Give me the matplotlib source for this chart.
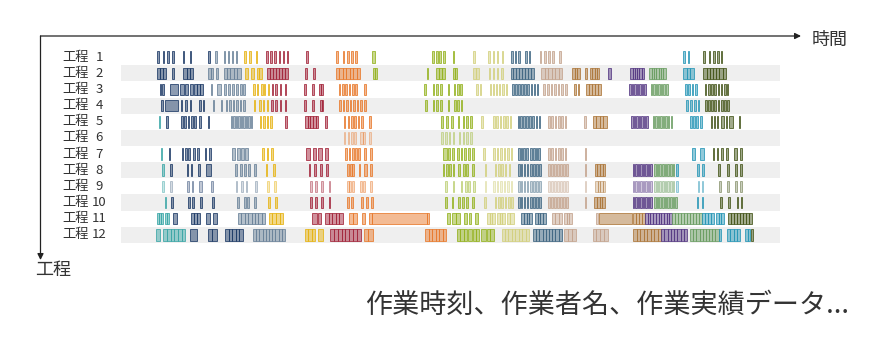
import matplotlib
matplotlib.use("Agg")
import matplotlib.pyplot as plt
from matplotlib.colors import to_rgba
from matplotlib.patches import Rectangle

plt.rcParams['font.family'] = ['Noto Sans CJK JP', 'DejaVu Sans']

W_PX, H_PX = 896, 348

# ── job colours (one colour per product / lot) ──
JOB_COLORS = {
    "T": "#3aa6a6",  # teal
    "N": "#1d3a66",  # navy
    "S": "#6a8299",  # slate
    "Y": "#e6b312",  # yellow
    "R": "#a3253a",  # crimson
    "O": "#e8792b",  # orange
    "G": "#94b21f",  # yellow-green
    "K": "#d3d07e",  # khaki
    "B": "#3f6682",  # steel blue
    "P": "#c4a48e",  # beige
    "W": "#ad773a",  # brown
    "V": "#553883",  # violet
    "E": "#6a9d62",  # green
    "C": "#2796b6",  # cyan
    "D": "#45561a",  # dark olive
}

process_numbers = list(range(1, 13))
axis_x_label = "時間"
axis_y_label = "工程"
caption = "作業時刻、作業者名、作業実績データ..."

# each entry: a single task at time t, or (start, end, n) = n consecutive tasks
row1 = {
    "N": [(156.5, 159, 1), 163.5, 168, 173, 183.5, 190.5, (208.3, 210.3, 1)],
    "S": [216, 224.5, 228.5, 232.5, 236.5],
    "Y": [245, 250, 256.5],
    "R": [266.7, 270.7, 275, 279.3, 283.3, 287.3, 306.7],
    "O": [(336, 338, 1), 343.3, 347.7, 351.7, 356],
    "G": [(372, 374.5, 1), 432.7, 436.7, 440, 444, 453.3],
    "K": [(473, 475, 1), 489, 493.5, 497.5, 502.5],
    "B": [(510.5, 512.5, 1), 515.3, 519, (525, 527, 1), 529.5],
    "P": [540.5, 545, 549, 553, 560],
    "C": [(683.3, 685.3, 1), 688.3],
    "D": [(703.3, 705.3, 1), 709.3, (713.3, 715.3, 1), 718, 721.5],
}
row2 = {
    "N": [(156.5, 166, 3), (171.5, 174, 1), (183.3, 193, 3)],
    "S": [(208.3, 213.3, 2), 216.7, (223.5, 240.5, 5)],
    "Y": [(245, 248.3, 1), (250.7, 254, 1), (256.7, 261.7, 2)],
    "R": [(266.7, 288.3, 7), (305, 307.3, 1), (312.7, 315, 1)],
    "O": [(336, 360, 7)],
    "G": [(372.7, 376.7, 2), (426.5, 428.3, 1), (436, 445, 3), (452.5, 457.3, 2)],
    "K": [(473.3, 478.7, 2), 489.5, 493.5, 497.5, 502],
    "B": [(510.5, 533.5, 8)],
    "P": [(541, 562, 6)],
    "W": [(572.3, 580, 3), 586, (590, 599.3, 4)],
    "V": [(607.5, 610.7, 1), (630.3, 644, 6)],
    "E": [(649.3, 665.7, 7)],
    "C": [(683.3, 694, 3)],
    "D": [(703.3, 725.7, 7)],
}
row3 = {
    "N": [160.5, 163, (170, 178.3, 1), (180, 184, 1), (185.3, 188.3, 1),
          (189.5, 192.7, 1), (193.5, 203, 3)],
    "S": [211.5, (216.5, 221, 1), 225, 229, 233, 237, 241, 244],
    "Y": [254, 257.5, 262, 264.5, 268.5],
    "R": [272.5, 276, 280.5, 285.5, 305, 312.7, (319.3, 322.7, 2)],
    "O": [339.3, 342.7, 346, 349.3, 352.7, 356, 365],
    "G": [425, 433.3, 436.7, 440.7, 448.5, 454.5, 458, 461],
    "K": [477, 480.3, 490.5, 493.5, 496.5, 499.5, 503, 506.5],
    "B": [513, 516, 519, 522, 525, 528, 531.5, 534.5, 537.5],
    "P": [544, 548, 551.5, 555, 558.5, 562, 566],
    "W": [575, 578.5, (585.5, 600.5, 5)],
    "V": [630, 632.5, 635, 637.5, 640, 642.5, 645],
    "E": [651.5, 654, 656.5, 659, 661.5, 664, 667],
    "C": [686, 689, 692.5, 696],
    "D": [705.5, 709, 712, 715, 718.5, 721.5, 725, 727.5],
}
row4 = {
    "N": [162, (165, 178.3, 1), 181.5, 186, 190.5, 200, 203.3],
    "S": [213.3, 221.5, 226.5, 230, 233.3, 236.7, 240.5, 244],
    "Y": [254.5, 259.7, 263.5, 267.5],
    "R": [272, 276, 280.3, 285.3, 305, 312.7, (320, 323.3, 2)],
    "O": [340, 343.5, 347, 350.5, 354, 357.5, 361, 365],
    "G": [426, 433.3, 436.7, 440.7, 448.3, 454.7, 458, 461.3],
    "C": [686.7, 690.7, 694.7, 698.3],
    "D": [706, 709, 712, 715, 718.5, 722, 725, 728],
}
row5 = {
    "T": [159.5],
    "N": [167, 181.7, 185, 188.3, 191.7, 195, 200, 208.3],
    "S": [231.5, 234, 236.5, 239, 241.5, 244, 246.5, 249, 251.5],
    "Y": [260.5, 264, 267.5, 271],
    "R": [286, (305, 318.3, 5), (325, 327, 1)],
    "O": [344.3, 348.3, 351.7, 355, 358.3, 361.7, 370],
    "G": [441.7, 446.7, 451.7, 458.3, 463.3, 466.7, 470.7],
    "K": [482, 494, 497, 500.5, 504, 507, 510.5],
    "B": [518.3, 521, 524, 527, 530, 533, 536.5, 539.5],
    "P": [548.7, 552, 555.3, 558.7, 562, 565.3, 584.7],
    "W": [(592.5, 606.5, 4)],
    "V": [632, 634.5, 637, 639.5, 642, 644.5, 647],
    "E": [653.5, 656, 658.5, 661, 663.5, 666, 668.5, 671.5],
    "C": [691, 694, 697, (699.5, 701.5, 1)],
    "D": [711.5, 714.5, 717.5, (720.5, 724, 1), 726.5, (729, 732.5, 1), 739.5],
}
row6 = {
    "O": [344.3, 348.3, 351.7, 355, (360, 365, 2), 370],
    "G": [441.7, 445.7, 449.3, 453.3, 459.3, 463.3, 466.7, 470.7],
}
row7 = {
    "T": [161.5],
    "N": [169.5, 182.3, 185.7, 189, 194, 198, 205.3, 209.7],
    "S": [(232.3, 235.3, 1), (236.5, 239.5, 1), (240.7, 243.7, 1), (245, 248, 1)],
    "Y": [263, 267.3, 272],
    "R": [(306, 310, 1), (312.7, 316, 1), (318.3, 321.7, 1), (325, 328.3, 1)],
    "O": [346, 349.3, 352.7, 356, 359, 365, 371],
    "G": [(443.3, 446.5, 1), (447.5, 450, 1), 453, 458, 461.5, 465, 469, 473],
    "K": [483.7, 494, 497.5, 501, 504.5, 508, 511.5],
    "B": [518.7, 521.3, 524, 526.7, 531, 533.7, 536.3, 539],
    "P": [548.7, 552, 555.3, 558.7, 562, 565.5, 585.3],
    "C": [(692, 695, 1), (700.3, 703.7, 1)],
    "D": [713.3, 717.3, 721.7, 726.7, (734, 736.8, 1), 740.7],
}
row8 = {
    "T": [163],
    "N": [170.7, 187.3, 191.3, 198.7, (206.3, 211.3, 1)],
    "S": [235.7, 240.7, 244.7, 248.7, 254.7],
    "Y": [266.3, 274],
    "R": [309.3, 315, 320.7, (326, 328.3, 1)],
    "O": [347.7, 350.7, 352.7, 359.3, (364.3, 366.7, 1), (370, 371.7, 1)],
    "G": [443.3, 446.7, 450, 453.5, 458.7, 463.7, 467, (472, 473.7, 1)],
    "K": [485.3, 495.3, 498.7, 502, 505.3, 509.3],
    "B": [518.7, 521.5, 524.5, 527.5, 531, 534, 537, 540],
    "P": [548.7, 551.7, 554.7, 557.7, 560.7, 563.7, 567, 585.3],
    "W": [(594.7, 605.3, 4)],
    "V": [633.5, 636, 638.5, 641, 643.5, 646, 648.5, 650.7],
    "E": [654.7, 657.3, 660, 662.7, 665.3, 668, 670.7, 673.5],
    "C": [676.7, (696.7, 699, 1), 702.7],
    "D": [719, 728, (735, 736.8, 1), 740.7],
}
row9 = {
    "T": [163],
    "S": [170.7, 236.3, 242, 246.3, (254.7, 257.3, 1)],
    "N": [188, 192.3, (199, 202, 1), 212],
    "Y": [268, 274.7],
    "R": [310.7, 316, 321.7, 329.3],
    "O": [347.7, 350, 352.7, 361, 364, (370, 371.7, 1)],
    "G": [446, 453.5, 461.3, 466, 468.7, 473.7],
    "K": [485.3, 494, 497.5, 501, 504.5, 508, 511.5],
    "B": [518.7, 521.5, 524.5, 527.5, 531, 534, 537, 540],
    "P": [548.7, 551.7, 554.7, 557.7, 560.7, 563.7, 567, 585.3],
    "W": [(595.3, 605.3, 4)],
    "V": [633.5, 636, 638.5, 641, 643.5, 646, 648.5, 650.7],
    "E": [654.7, 657.3, 660, 662.7, 665.3, 668, 670.7, 673.5],
    "C": [676.7, 698.3, 702.3],
    "D": [720, 728, 735.7, 740.7],
}
row10 = {
    "T": [165.3],
    "N": [172, 188.7, 193, 200.7, 213],
    "S": [238, 244.7, 248, 254.7],
    "Y": [268.7, 275.7],
    "R": [310.7, 316, 321.7, 329.3],
    "O": [347.7, 351.7, 361.7, 366.7, 371.7],
    "G": [446, 452.5, 458.7, 462.7, 467, 472.7],
    "K": [484.7, 495.3, 498.7, 502, 505.3, 508.7, 512],
    "B": [518.7, 521.5, 524.5, 527.5, 531, 534, 537, 540],
    "P": [548.7, 551.7, 554.7, 557.7, 560.7, 563.7, 567, 585.3],
    "W": [(594, 605.3, 4)],
    "V": [633.5, 636, 638.5, 641, 643.5, 646, 648.5, 650.7],
    "E": [654.7, 657.3, 660, 662.7, 665.3, 668, 670.7, 673.5, 675.7],
    "C": [697.3, 702.3],
    "D": [720.7, 729, (736.7, 738.3, 1), 741.3],
}
row11 = {
    "T": [(157.3, 163, 3), (164.7, 168.7, 2)],
    "N": [(173, 176.5, 1), (190.7, 199.5, 3), (206.3, 209.7, 1), (213, 217.3, 1)],
    "S": [(238, 265, 8)],
    "Y": [(268.5, 283.3, 4)],
    "R": [(311.7, 316.7, 1), (318.3, 320.7, 1), (325, 342.7, 5)],
    "O": [(349.3, 357.3, 2), (361.7, 365, 1), (369.3, 371.7, 1),
          (371.7, 426.7, 1), (427.3, 429.3, 1)],
    "G": [(446.5, 449.5, 1), (452, 460, 2), (463.7, 467, 1), (468.7, 471.3, 1),
          (474.7, 478, 1)],
    "K": [(487, 495, 3), (497, 505, 3), (507, 513.7, 2)],
    "B": [(521.3, 532, 4), (534.7, 546, 4)],
    "P": [(552, 562, 3), (564, 572, 3), 597],
    "W": [(598.7, 631.7, 1), (632.5, 645, 4)],
    "V": [(645, 672, 10)],
    "E": [(672, 701.5, 10)],
    "C": [(701.5, 713.5, 4), (716, 724, 3)],
    "D": [(727.5, 751.5, 8)],
}
row12 = {
    "T": [(156.3, 160, 1), (163.3, 185.3, 6)],
    "N": [(190, 197, 1), (208.3, 216.5, 2), (225.3, 243, 5)],
    "S": [(253, 285, 10)],
    "Y": [(305, 315, 3), (318.3, 323.3, 1)],
    "R": [(330, 360.7, 8)],
    "O": [(364, 372.7, 2), (425, 446, 6)],
    "G": [(457, 467, 3), (468, 472, 1), (473, 479, 2), (481, 485.5, 1),
          (486.5, 493.5, 2)],
    "K": [(501.5, 529.3, 8)],
    "B": [(533, 561.7, 9)],
    "P": [(564, 576, 3), (592.5, 608, 4)],
    "W": [(633, 661, 8)],
    "V": [(661, 687.3, 8)],
    "E": [(690, 718.5, 9)],
    "C": [(718.5, 720.7, 1), (727, 740, 4), (745, 750.3, 2)],
    "D": [(750.5, 752.7, 1)],
}
rows = [row1, row2, row3, row4, row5, row6, row7, row8, row9, row10, row11, row12]
row_alpha = [1, 1, 1, 1, 1, 0.45, 1, 1, 0.55, 1, 1, 1]

# ── layout (pixels) ──
ROW1_Y, ROW_STEP = 57.3, 16.13
BAND_X0, BAND_X1 = 121, 780
BAR_H = 0.72
TICK_W = 1.6
TEXT = "#333333"

fig = plt.figure(figsize=(W_PX / 100, H_PX / 100), dpi=100)
fig.patch.set_facecolor("white")

# main axes: x = time, y = process number
ax = fig.add_axes([0, 0, 1, 1])
ax.set_xlim(0, W_PX)
y_top = 1 - ROW1_Y / ROW_STEP
y_bot = 1 + (H_PX - ROW1_Y) / ROW_STEP
ax.set_ylim(y_bot, y_top)
ax.axis("off")

for r in process_numbers:
    if r % 2 == 0:
        ax.add_patch(Rectangle((BAND_X0, r - 0.5), BAND_X1 - BAND_X0, 1.0,
                               facecolor="#efefef", edgecolor="none", zorder=0))
    ax.text(62, r, "工程", ha="left", va="center", fontsize=9.5, color=TEXT)
    ax.text(99, r, str(r), ha="center", va="center", fontsize=9.5, color=TEXT)

for r, row, ra in zip(process_numbers, rows, row_alpha):
    for job, items in row.items():
        col = JOB_COLORS[job]
        for it in items:
            if isinstance(it, tuple):
                x0, x1, n = it
            else:
                x0, x1, n = it - TICK_W / 2, it + TICK_W / 2, 1
            w = (x1 - x0) / n
            for k in range(n):
                ax.add_patch(Rectangle((x0 + k * w, r - BAR_H / 2), w, BAR_H,
                                       facecolor=to_rgba(col, 0.5 * ra),
                                       edgecolor=to_rgba(col, 0.92 * ra),
                                       linewidth=0.6, zorder=2))

# overlay in pixel coords for arrows and captions
ov = fig.add_axes([0, 0, 1, 1], facecolor="none")
ov.set_xlim(0, W_PX)
ov.set_ylim(H_PX, 0)
ov.axis("off")

arrow = dict(arrowstyle="-|>", color="#222222", lw=0.9, mutation_scale=9,
             shrinkA=0, shrinkB=0)
ov.annotate("", xy=(801, 36), xytext=(40.5, 36), arrowprops=arrow)
ov.annotate("", xy=(40.5, 260), xytext=(40.5, 36), arrowprops=arrow)
ov.text(812, 40, axis_x_label, ha="left", va="center", fontsize=13, color=TEXT)
ov.text(35, 270, axis_y_label, ha="left", va="center", fontsize=13, color=TEXT)
ov.text(849, 305, caption, ha="right", va="center", fontsize=19.5, color=TEXT)

fig.savefig("out.png", dpi=100, facecolor="white")
